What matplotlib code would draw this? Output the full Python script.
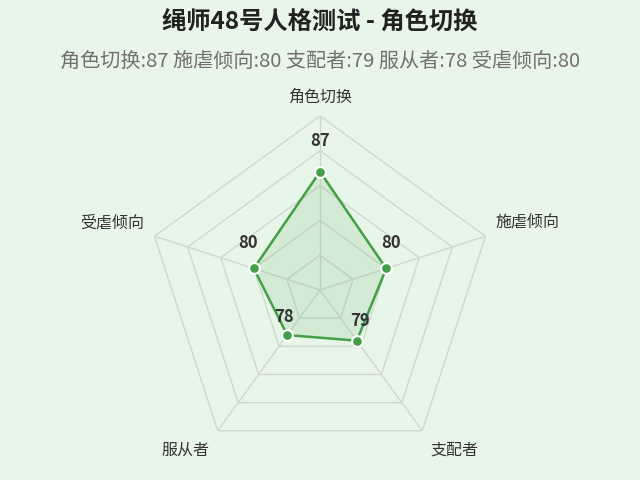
import matplotlib
matplotlib.use('Agg')
import matplotlib.pyplot as plt
import numpy as np

plt.rcParams['font.family'] = ['Noto Sans CJK SC', 'DejaVu Sans']

# data
categories = ['角色切换', '施虐倾向', '支配者', '服从者', '受虐倾向']
values = [87, 80, 79, 78, 80]
r_min = 70
r_max = 95
ring_levels = [75, 80, 85, 90, 95]

title = '绳师48号人格测试 - 角色切换'
subtitle = ' '.join(['%s:%d' % (c, v) for c, v in zip(categories, values)])

# styles
bg = '#e8f5e9'
green = '#43a047'
grid_color = '#cfd8cf'
name_offsets = [(0, 19, 'center'), (10, 13, 'left'), (8, -19, 'left'),
                (-8, -19, 'right'), (-10, 13, 'right')]
value_offsets = [(0, 31), (5, 25), (3, 20), (-3, 18), (-6, 25)]

fig = plt.figure(figsize=(6.4, 4.8), dpi=100, facecolor=bg)
ax = fig.add_axes([146 / 640, 16 / 480, 348 / 640, 348 / 480], projection='polar')
ax.set_facecolor('none')
ax.set_theta_offset(np.pi / 2)
ax.set_theta_direction(-1)
ax.set_ylim(r_min, r_max)
ax.grid(False)
ax.spines['polar'].set_visible(False)
ax.set_xticks([])
ax.set_yticks([])

n = len(categories)
angles = np.linspace(0, 2 * np.pi, n, endpoint=False)
closed = np.append(angles, angles[0])

# rings and spokes
for lvl in ring_levels:
    ax.plot(closed, [lvl] * (n + 1), color=grid_color, lw=1, zorder=1)
for a in angles:
    ax.plot([a, a], [r_min, r_max], color=grid_color, lw=1, zorder=1)

vals = np.append(values, values[0])
ax.fill(closed, vals, color=green, alpha=0.12, zorder=2)
ax.plot(closed, vals, color=green, lw=1.8, zorder=3)
ax.scatter(angles, values, s=60, color=green, edgecolors='white', linewidths=1.5, zorder=4, clip_on=False)

for a, c, (dx, dy, ha) in zip(angles, categories, name_offsets):
    ax.annotate(c, xy=(a, r_max), xytext=(dx, dy), textcoords='offset pixels',
                ha=ha, va='center', fontsize=11.5, color='#333333', annotation_clip=False)

for a, v, (dx, dy) in zip(angles, values, value_offsets):
    ax.annotate(str(v), xy=(a, v), xytext=(dx, dy), textcoords='offset pixels',
                ha='center', va='center', fontsize=12, fontweight='bold', color='#333333',
                annotation_clip=False)

fig.text(0.5, 1 - 22 / 480, title, ha='center', va='center', fontsize=17.5,
         fontweight='bold', color='#222222')
fig.text(0.5, 1 - 61 / 480, subtitle, ha='center', va='center', fontsize=14.5, color='#707070')

fig.savefig('out.png', dpi=100, facecolor=bg)
